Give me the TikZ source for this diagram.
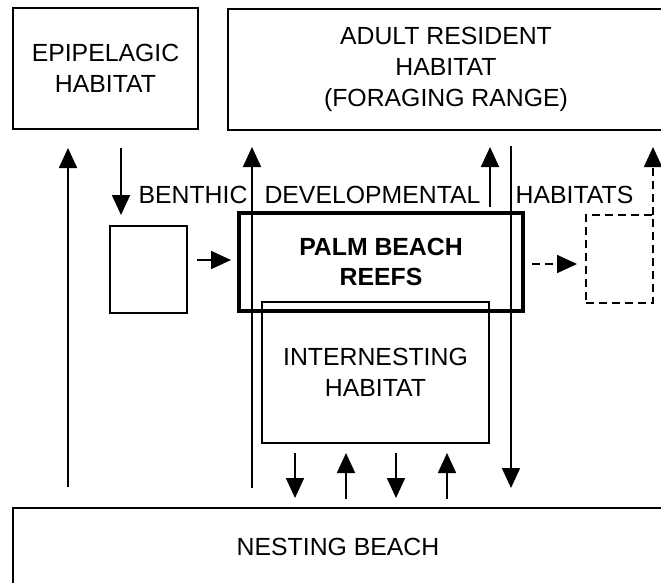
\documentclass[tikz,border=0pt]{standalone}
\usepackage{fontspec}
\setmainfont{Liberation Sans}
\usetikzlibrary{arrows.meta}
\tikzset{
  box/.style={draw, line width=1.8pt, inner sep=0pt, align=center},
  lbl/.style={font=\fontsize{24.8}{31}\selectfont, inner sep=0pt},
  arr/.style={line width=1.8pt, -{Triangle[width=18pt,length=20pt]}},
  darr/.style={arr, dash pattern=on 8pt off 5pt},
}
\begin{document}
\begin{tikzpicture}[x=1pt,y=-1pt]
\useasboundingbox (0,0) rectangle (661,582);
\clip (0,0) rectangle (661,582);
\fill[white] (0,0) rectangle (661,582);

\node[box, lbl, minimum width=185pt, minimum height=121pt] (epi) at (105.5,68.5) {EPIPELAGIC\\HABITAT};
\node[box, lbl, minimum width=436pt, minimum height=121pt] (adult) at (446,69.5) {ADULT RESIDENT\\HABITAT\\(FORAGING RANGE)};
\node[box, lbl, minimum width=650pt, minimum height=78pt] (nest) at (338,547) {NESTING BEACH};
\node[box, minimum width=77pt, minimum height=87pt] (small) at (148.5,269.5) {};
\node[box, lbl, line width=3.8pt, minimum width=284pt, minimum height=98pt, font=\fontsize{24.8}{30}\selectfont\bfseries] (palm) at (381,262) {PALM BEACH\\REEFS};
\node[box, lbl, minimum width=227pt, minimum height=141pt] (inter) at (375.5,372.5) {INTERNESTING\\HABITAT};
\node[box, dash pattern=on 8pt off 5pt, minimum width=67pt, minimum height=88pt] (dbox) at (619.5,259) {};

\node[lbl, anchor=base] (tb) at (193,203) {BENTHIC};
\node[lbl, anchor=base] (td) at (372.5,203) {DEVELOPMENTAL};
\node[lbl, anchor=base] (th) at (574.5,203) {HABITATS};

\coordinate (a1s) at (68,487);   \coordinate (a1e) at (68,148);
\coordinate (a2s) at (121,148);  \coordinate (a2e) at (121,215);
\coordinate (a3s) at (197,260);  \coordinate (a3e) at (231,260);
\coordinate (a4s) at (252,488);  \coordinate (a4e) at (252,147);
\coordinate (a5s) at (490,207);  \coordinate (a5e) at (490,147);
\coordinate (a6s) at (511,146);  \coordinate (a6e) at (511,488);
\coordinate (a7s) at (532,264);  \coordinate (a7e) at (577,264);
\coordinate (a8s) at (653,215);  \coordinate (a8e) at (653,147);
\coordinate (b1s) at (295,453);  \coordinate (b1e) at (295,498);
\coordinate (b2s) at (346,499);  \coordinate (b2e) at (346,453);
\coordinate (b3s) at (396,453);  \coordinate (b3e) at (396,498);
\coordinate (b4s) at (447,499);  \coordinate (b4e) at (447,453);

\draw[arr] (a1s) -- (a1e);
\draw[arr] (a2s) -- (a2e);
\draw[arr] (a3s) -- (a3e);
\draw[arr] (a4s) -- (a4e);
\draw[arr] (a5s) -- (a5e);
\draw[arr] (a6s) -- (a6e);
\draw[darr] (a7s) -- (a7e);
\draw[darr] (a8s) -- (a8e);
\draw[arr] (b1s) -- (b1e);
\draw[arr] (b2s) -- (b2e);
\draw[arr] (b3s) -- (b3e);
\draw[arr] (b4s) -- (b4e);
\end{tikzpicture}
\end{document}
